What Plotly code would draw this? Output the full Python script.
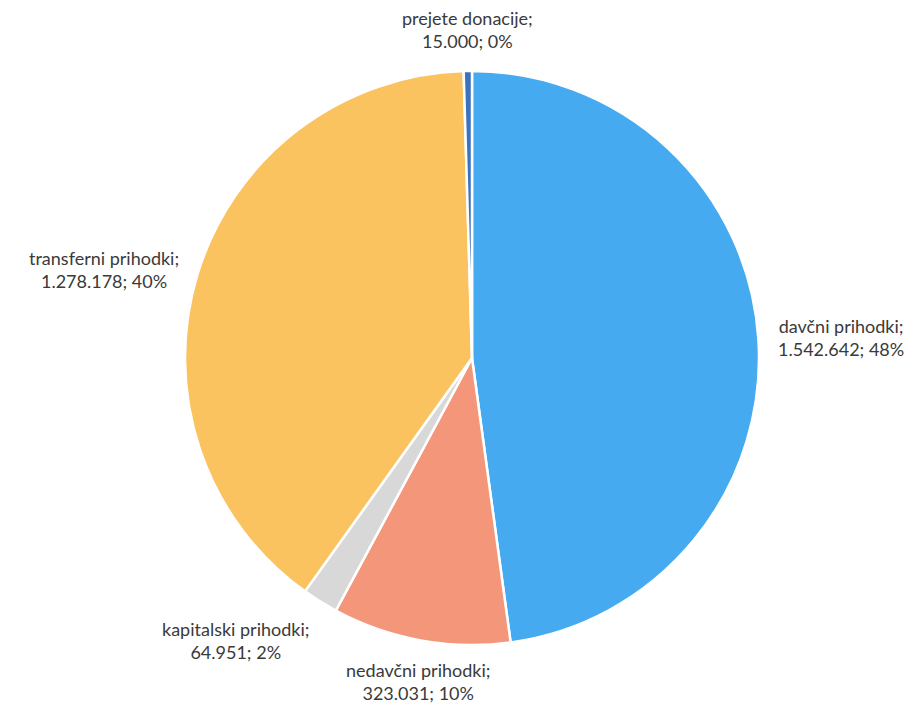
import math
import plotly.graph_objects as go

labels = ["davčni prihodki", "nedavčni prihodki", "kapitalski prihodki", "transferni prihodki", "prejete donacije"]
values = [1542642, 323031, 64951, 1278178, 15000]
colors = ["#45aaf0", "#f4967a", "#d8d8d8", "#fbc35f", "#3a72c0"]

W, H = 919, 708
ML, MR, MT, MB = 9, 0, 63, 71
PW, PH = W - ML - MR, H - MT - MB
R = min(PW, PH) / 2.0          # pie radius in px
GAP = 1.06                      # label distance as multiple of radius

fig = go.Figure(go.Pie(
    labels=labels,
    values=values,
    sort=False,
    direction="clockwise",
    rotation=0,
    marker=dict(colors=colors, line=dict(color="white", width=2.5)),
    textinfo="none",
    showlegend=False,
    hoverinfo="label+value+percent",
))

total = float(sum(values))
cum = 0.0
annotations = []
for lab, v in zip(labels, values):
    frac = v / total
    mid = (cum + frac / 2.0) * 2 * math.pi   # clockwise from 12 o'clock
    cum += frac
    sx, cy = math.sin(mid), math.cos(mid)    # cy>0 means up
    x = 0.5 + GAP * R * sx / PW
    y = 0.5 + GAP * R * cy / PH
    xa = "left" if sx > 0.3 else ("right" if sx < -0.3 else "center")
    ya = "bottom" if cy > 0.5 else ("top" if cy < -0.5 else "middle")
    num = f"{v:,}".replace(",", ".")
    pct = f"{round(frac * 100):.0f}%"
    annotations.append(dict(
        x=x, y=y, xref="paper", yref="paper",
        xanchor=xa, yanchor=ya, align="center",
        text=f"{lab};<br>{num}; {pct}",
        showarrow=False,
        font=dict(family="Lato, 'Open Sans', sans-serif", size=18, color="#3a3a3a"),
    ))

fig.update_layout(
    width=W, height=H,
    margin=dict(l=ML, r=MR, t=MT, b=MB),
    paper_bgcolor="white",
    plot_bgcolor="white",
    annotations=annotations,
)

fig.write_html("out.html")
